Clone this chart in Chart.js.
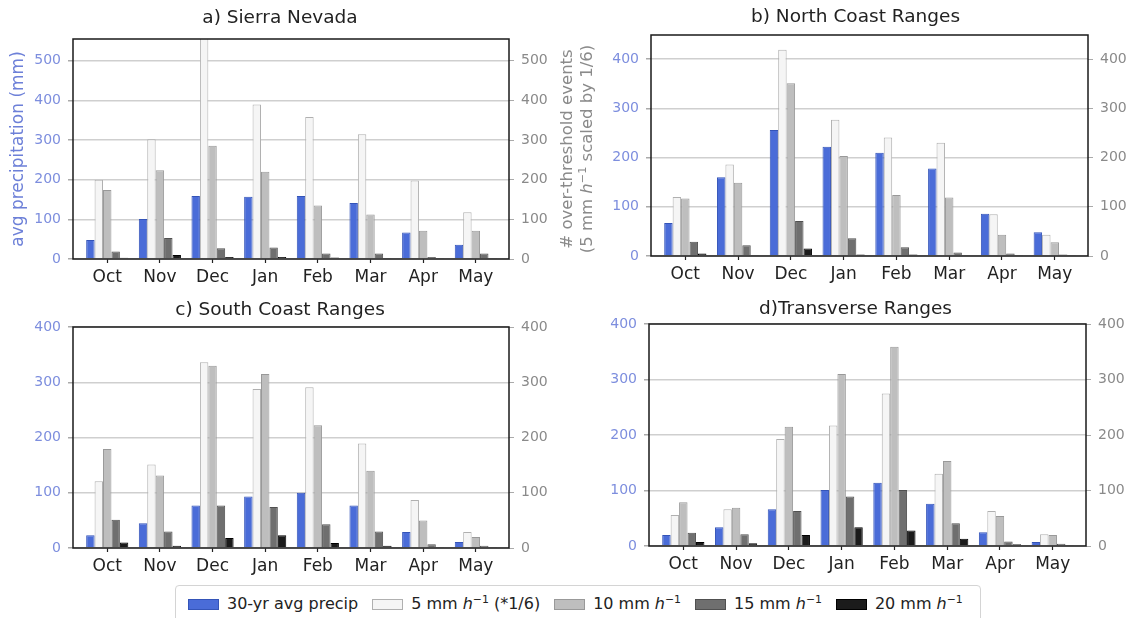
<!DOCTYPE html>
<html lang="en">
<head>
<meta charset="utf-8">
<title>Monthly precipitation and over-threshold events</title>
<script src="https://cdn.jsdelivr.net/npm/chart.js@4.4.1/dist/chart.umd.min.js"></script>
<style>
  html, body { margin: 0; padding: 0; background: #fff; }
  #fig { position: relative; width: 1131px; height: 618px; overflow: hidden; font-family: 'DejaVu Sans', sans-serif; }
  #fig canvas { position: absolute; }
  #ylab2 {
    position: absolute; left: 452px; top: 129px; width: 250px; height: 40px;
    color: #8a8a8a; font-size: 16.5px; line-height: 20px; text-align: center; white-space: nowrap;
    transform: rotate(-90deg); transform-origin: 125px 20px;
  }
  #ylab2 sup, #legend sup { font-size: 0.68em; line-height: 0; }
  #legend {
    position: absolute; left: 175px; top: 585px; width: 806px; height: 45px;
    box-sizing: border-box; border: 1px solid #d4d4d4; border-radius: 4px;
    display: flex; align-items: flex-start; padding: 8px 0 0 12px;
    font-size: 16px; line-height: 20px; color: #222;
  }
  .lg-item { display: flex; align-items: center; margin-right: 14px; white-space: nowrap; }
  .lg-sw { width: 31px; height: 11px; margin-right: 8px; box-sizing: border-box; border: 1px solid; }
</style>
</head>
<body>
<div id="fig">
  <canvas id="chart-a" width="560" height="295" style="left:0;top:0"></canvas>
  <canvas id="chart-b" width="551" height="295" style="left:580px;top:0"></canvas>
  <canvas id="chart-c" width="560" height="290" style="left:0;top:295px"></canvas>
  <canvas id="chart-d" width="551" height="290" style="left:580px;top:295px"></canvas>
  <div id="ylab2"># over-threshold events<br>(5 mm <i>h</i><sup>−1</sup> scaled by 1/6)</div>
  <div id="legend"></div>
</div>
<script>
'use strict';

// ----------------------------------------------------------------
// DATA
// ----------------------------------------------------------------
const MONTHS = ['Oct', 'Nov', 'Dec', 'Jan', 'Feb', 'Mar', 'Apr', 'May'];
const THRESHOLDS = [5, 10, 15, 20]; // mm h-1
const Y_TICK_STEP = 100;

// a) Sierra Nevada
const sierraPrecip = [48, 101, 159, 157, 159, 141, 67, 36];
const sierra5  = [200, 302, 560, 390, 358, 315, 198, 118];
const sierra10 = [174, 224, 286, 220, 135, 112, 71, 71];
const sierra15 = [19, 53, 27, 29, 14, 14, 5, 14];
const sierra20 = [3, 10, 5, 5, 4, 1, 1, 1];

// b) North Coast Ranges
const northPrecip = [67, 160, 256, 222, 210, 178, 86, 48];
const north5  = [120, 186, 419, 277, 241, 230, 85, 43];
const north10 = [117, 149, 351, 203, 124, 119, 43, 28];
const north15 = [29, 22, 71, 36, 18, 7, 5, 3];
const north20 = [5, 1, 15, 3, 3, 1, 1, 1];

// c) South Coast Ranges
const southPrecip = [23, 45, 77, 93, 100, 77, 29, 11];
const south5  = [121, 151, 336, 288, 291, 189, 87, 29];
const south10 = [179, 131, 330, 315, 222, 140, 50, 20];
const south15 = [51, 30, 77, 74, 43, 30, 7, 4];
const south20 = [10, 4, 18, 23, 9, 4, 1, 1];

// d) Transverse Ranges
const transPrecip = [20, 34, 66, 101, 114, 76, 25, 7];
const trans5  = [56, 66, 193, 217, 275, 130, 63, 21];
const trans10 = [79, 69, 215, 310, 359, 153, 54, 20];
const trans15 = [24, 21, 63, 89, 101, 41, 8, 4];
const trans20 = [7, 5, 20, 34, 28, 13, 3, 1];

// ----------------------------------------------------------------
// STYLE
// ----------------------------------------------------------------
const FONT = "'DejaVu Sans', sans-serif";
const SERIES_FILL = ['#4a6cd8', '#f5f5f5', '#bebebe', '#6f6f6f', '#1b1b1b'];
const SERIES_EDGE = ['#3454b8', '#b0b0b0', '#999999', '#505050', '#000000'];
const SERIES_NAMES = ['30-yr avg precip'].concat(
  THRESHOLDS.map(t => `${t} mm h-1` + (t === 5 ? ' (*1/6)' : '')));

// caja negra alrededor del área de datos
const framePlugin = {
  id: 'frame',
  afterDatasetsDraw(chart) {
    const { ctx, chartArea: a } = chart;
    ctx.save();
    ctx.strokeStyle = '#1a1a1a';
    ctx.lineWidth = 1.5;
    ctx.strokeRect(a.left, a.top, a.right - a.left, a.bottom - a.top);
    ctx.restore();
  }
};

function makePanel(id, title, series, ymax, box) {
  const canvas = document.getElementById(id);
  const datasets = series.map((vals, k) => ({
    label: SERIES_NAMES[k],
    data: vals.map((v, i) => ({ x: i, y: v })),
    backgroundColor: SERIES_FILL[k],
    borderColor: SERIES_EDGE[k],
    borderWidth: 1,
    categoryPercentage: 0.8,
    barPercentage: 1.0
  }));

  return new Chart(canvas, {
    type: 'bar',
    data: { datasets },
    plugins: [framePlugin],
    options: {
      responsive: false,
      animation: false,
      devicePixelRatio: 1,
      layout: { padding: 0 },
      plugins: {
        legend: { display: false },
        tooltip: { enabled: false },
        title: {
          display: true, text: title, fullSize: true, color: '#222',
          font: { family: FONT, size: 18.5, weight: 'normal' },
          padding: { top: box.tTop, bottom: box.tBottom }
        }
      },
      scales: {
        x: {
          type: 'linear', min: -0.65, max: 7.63, offset: false,
          afterBuildTicks: ax => { ax.ticks = MONTHS.map((m, i) => ({ value: i })); },
          afterFit: ax => { ax.height = box.xh; },
          grid: { drawOnChartArea: false, offset: false, color: '#222', tickLength: 4, tickWidth: 1.2 },
          border: { display: false },
          ticks: {
            callback: v => MONTHS[v], color: '#222', padding: 4.8, autoSkip: false, maxRotation: 0,
            font: { family: FONT, size: 17 }
          }
        },
        y: {
          position: 'left', min: 0, max: ymax,
          afterFit: ax => { ax.width = box.yl; },
          grid: { color: '#cfcfcf', lineWidth: 1.5, tickColor: '#aaa', tickLength: 5 },
          border: { display: false },
          ticks: {
            stepSize: Y_TICK_STEP, includeBounds: false, color: '#7d8ede', padding: 7,
            font: { family: FONT, size: 14 }
          },
          title: {
            display: !!box.yTitle, text: box.yTitle || '', color: '#6d80d8',
            font: { family: FONT, size: 17 }, padding: { top: 8, bottom: 0 }
          }
        },
        y2: {
          position: 'right', min: 0, max: ymax,
          afterFit: ax => { ax.width = box.yr; },
          grid: { drawOnChartArea: false, tickColor: '#aaa', tickLength: 5 },
          border: { display: false },
          ticks: {
            stepSize: Y_TICK_STEP, includeBounds: false, color: '#8a8a8a', padding: 7,
            font: { family: FONT, size: 14 }
          }
        }
      }
    }
  });
}

// ----------------------------------------------------------------
// PANELES
// ----------------------------------------------------------------
makePanel('chart-a', 'a) Sierra Nevada',
  [sierraPrecip, sierra5, sierra10, sierra15, sierra20], 555,
  { yl: 73, yr: 51, xh: 36, tTop: 7, tBottom: 9.8, yTitle: 'avg precipitation (mm)' });

makePanel('chart-b', 'b) North Coast Ranges',
  [northPrecip, north5, north10, north15, north20], 449,
  { yl: 71, yr: 43, xh: 39, tTop: 6, tBottom: 6.8 });

makePanel('chart-c', 'c) South Coast Ranges',
  [southPrecip, south5, south10, south15, south20], 400,
  { yl: 73, yr: 51, xh: 37, tTop: 4.5, tBottom: 5.3 });

makePanel('chart-d', 'd)Transverse Ranges',
  [transPrecip, trans5, trans10, trans15, trans20], 400,
  { yl: 69, yr: 45, xh: 39, tTop: 3, tBottom: 3.8 });

// ----------------------------------------------------------------
// LEYENDA COMÚN
// ----------------------------------------------------------------
const legendLabels = ['30-yr avg precip'].concat(
  THRESHOLDS.map(t => `${t} mm <i>h</i><sup>−1</sup>` + (t === 5 ? ' (*1/6)' : '')));

document.getElementById('legend').innerHTML = legendLabels.map((lbl, k) => `
  <div class="lg-item">
    <span class="lg-sw" style="background:${SERIES_FILL[k]};border-color:${SERIES_EDGE[k]}"></span><span>${lbl}</span>
  </div>`).join('');
</script>
</body>
</html>
